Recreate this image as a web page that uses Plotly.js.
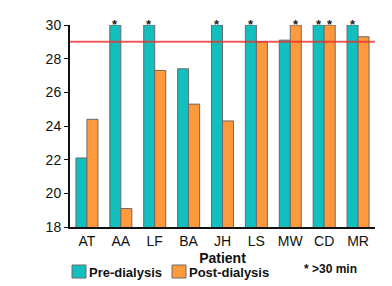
<!DOCTYPE html>
<html><head><meta charset="utf-8">
<script src="https://cdn.plot.ly/plotly-3.0.1.min.js"></script>
<style>html,body{margin:0;padding:0;background:#fff}#c{width:392px;height:286px}</style>
</head><body><div id="c"></div>
<script>
const patients = ['AT','AA','LF','BA','JH','LS','MW','CD','MR'];
const preDialysis  = [22.1, 30, 30, 27.4, 30, 30, 29.1, 30, 30];
const postDialysis = [24.4, 19.1, 27.3, 25.3, 24.3, 29.0, 30, 30, 29.3];
const preOver30  = [false, true, true, false, true, true, false, true, true];
const postOver30 = [false, false, false, false, false, false, true, true, false];
const seriesNames = ['Pre-dialysis', 'Post-dialysis'];
const seriesColors = ['#12BFBF', '#FF9A3C'];
const threshold = 29;
const yTicks = [18, 20, 22, 24, 26, 28, 30];
const noteText = '* >30 min';

const FONT = 'Liberation Sans, Arial, sans-serif';
const W = 392, H = 286, M = {l:70, r:17, t:25, b:59};
const PW = W - M.l - M.r, PH = H - M.t - M.b;
const px = x => (x - M.l) / PW;
const py = y => (H - M.b - y) / PH;
const BARGAP = 0.35;
const barPx = PW / patients.length * (1 - BARGAP) / 2;

const data = [
  {type:'bar', name:seriesNames[0], x:patients, y:preDialysis,
   marker:{color:seriesColors[0], line:{color:'#6a6a6a', width:1}}},
  {type:'bar', name:seriesNames[1], x:patients, y:postDialysis,
   marker:{color:seriesColors[1], line:{color:'#6a6a6a', width:1}}}
];

const shapes = [{type:'line', xref:'paper', x0:0, x1:1, yref:'y', y0:threshold, y1:threshold,
           line:{color:'rgba(232,50,50,0.8)', width:2}}];
const annotations = [];
// stars above bars
[[preDialysis, preOver30, -0.5], [postDialysis, postOver30, 0.5]].forEach(([vals, flags, side])=>{
  patients.forEach((p,i)=>{
    if (flags[i]) annotations.push({xref:'x', yref:'y', x:p, y:vals[i], xshift:side*barPx,
      yanchor:'middle', yshift:1, showarrow:false, text:'<b>*</b>',
      font:{size:13, family:FONT, color:'#222'}});
  });
});
// manual legend
const legendX = [72, 172];
seriesNames.forEach((n,i)=>{
  shapes.push({type:'rect', xref:'paper', yref:'paper',
    x0:px(legendX[i]), x1:px(legendX[i]+14), y0:py(278), y1:py(265),
    fillcolor:seriesColors[i], line:{color:'#6a6a6a', width:1}});
  annotations.push({xref:'paper', yref:'paper', x:px(legendX[i]+15), y:py(272),
    xanchor:'left', yanchor:'middle', showarrow:false,
    text:'<b>'+n+'</b>', font:{size:13, family:FONT, color:'#111'}});
});
annotations.push({xref:'paper', yref:'paper', x:px(302), y:py(269), xanchor:'left', yanchor:'middle',
  text:'<b>'+noteText+'</b>', showarrow:false, font:{size:12, family:FONT, color:'#111'}});

const layout = {
  width:W, height:H,
  margin:Object.assign({autoexpand:false}, M),
  paper_bgcolor:'#fff', plot_bgcolor:'#fff',
  barmode:'group', bargap:BARGAP, bargroupgap:0,
  font:{family:FONT, color:'#111'},
  showlegend:false,
  xaxis:{showline:true, linecolor:'#111', linewidth:2, ticks:'', showgrid:false,
         tickfont:{size:14, family:FONT}, ticklen:0, automargin:false,
         title:{text:'<b>Patient</b>', font:{size:14, family:FONT}, standoff:5}},
  yaxis:{range:[18,30], tickvals:yTicks, showline:true, linecolor:'#111', linewidth:2,
         ticks:'outside', ticklen:4, tickcolor:'#111', showgrid:false, zeroline:false,
         tickfont:{size:14, family:FONT}, automargin:false},
  shapes:shapes,
  annotations:annotations
};
Plotly.newPlot('c', data, layout, {displayModeBar:false, staticPlot:true});
</script>
</body></html>
